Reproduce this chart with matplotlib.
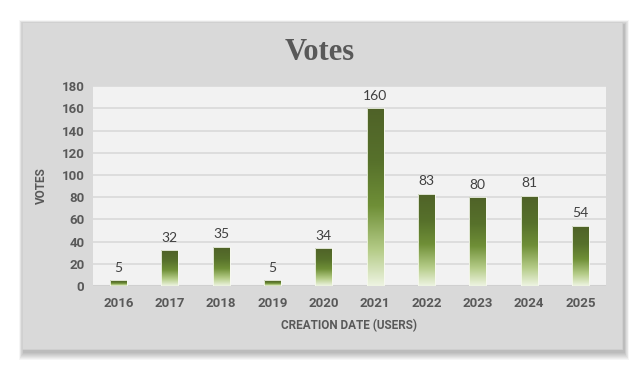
import numpy as np
import matplotlib.pyplot as plt
from matplotlib.colors import LinearSegmentedColormap
from matplotlib.patches import Rectangle

years = ["2016", "2017", "2018", "2019", "2020", "2021", "2022", "2023", "2024", "2025"]
votes = [5, 32, 35, 5, 34, 160, 83, 80, 81, 54]

fig = plt.figure(figsize=(6.4, 3.71), dpi=100)
fig.patch.set_facecolor("white")

# soft shadow behind the panel, heavier towards bottom-right
px, py = 1 / 640, 1 / 371
for k in range(1, 9):
    fig.add_artist(Rectangle((0.034 - k * px * 0.6 + 2 * px, 0.059 - k * py - 3 * py),
                             0.938 + k * px * 1.2, 0.882 + k * py * 1.6,
                             transform=fig.transFigure, facecolor="black", alpha=0.035,
                             edgecolor="none", zorder=0))
fig.add_artist(Rectangle((0.034, 0.059), 0.938, 0.882, transform=fig.transFigure,
                         facecolor="#d9d9d9", edgecolor="#d0d0d0", lw=0.6, zorder=1))

ax = fig.add_axes([0.145, 0.229, 0.802, 0.539])
ax.set_zorder(2)
ax.set_facecolor("#f2f2f2")
x = np.arange(len(years))
ax.set_yticks(range(0, 181, 20))
ax.set_xticks(x)
ax.set_xticklabels(years)
ax.yaxis.grid(True, color="#d9d9d9", lw=1.2)
ax.set_axisbelow(True)
for s in ax.spines.values():
    s.set_visible(False)
ax.axhline(0, color="#d0d0d0", lw=1.5, zorder=1)
ax.tick_params(length=0, labelsize=9.5, labelcolor="#595959", pad=6)
for lab in ax.get_xticklabels() + ax.get_yticklabels():
    lab.set_family("Roboto")
    lab.set_fontweight("bold")
ax.tick_params(axis="x", pad=8)

cmap = LinearSegmentedColormap.from_list(
    "g", [(0, "#eef4e2"), (0.2, "#b5cc88"), (0.45, "#6f8f37"), (0.7, "#57712b"), (1, "#4f6228")])
grad = np.linspace(0, 1, 256).reshape(-1, 1)
bars = ax.bar(x, votes, width=0.33, color="none", edgecolor="#f7faef", lw=0.6, zorder=3)
for b, v in zip(bars, votes):
    im = ax.imshow(grad, cmap=cmap, origin="lower", aspect="auto", zorder=2.5,
                   extent=[b.get_x(), b.get_x() + b.get_width(), 0, v])
    im.set_clip_path(b)
    ax.text(b.get_x() + b.get_width() / 2, v + 6, str(v), ha="center", va="bottom",
            fontsize=10, color="#404040", family="Lato")
ax.set_xlim(-0.5, len(years) - 0.5)
ax.set_ylim(0, 180)

ax.set_ylabel("VOTES", fontsize=8.5, fontweight="bold", color="#595959", labelpad=10, family="Roboto")
ax.set_xlabel("CREATION DATE (USERS)", fontsize=8.5, fontweight="bold", color="#595959",
              labelpad=6, family="Roboto")
fig.text(0.5, 0.858, "Votes", ha="center", va="center", fontsize=22, fontweight="bold",
         color="#595959", family="Liberation Serif", zorder=3)

fig.savefig("out.png", dpi=100)
